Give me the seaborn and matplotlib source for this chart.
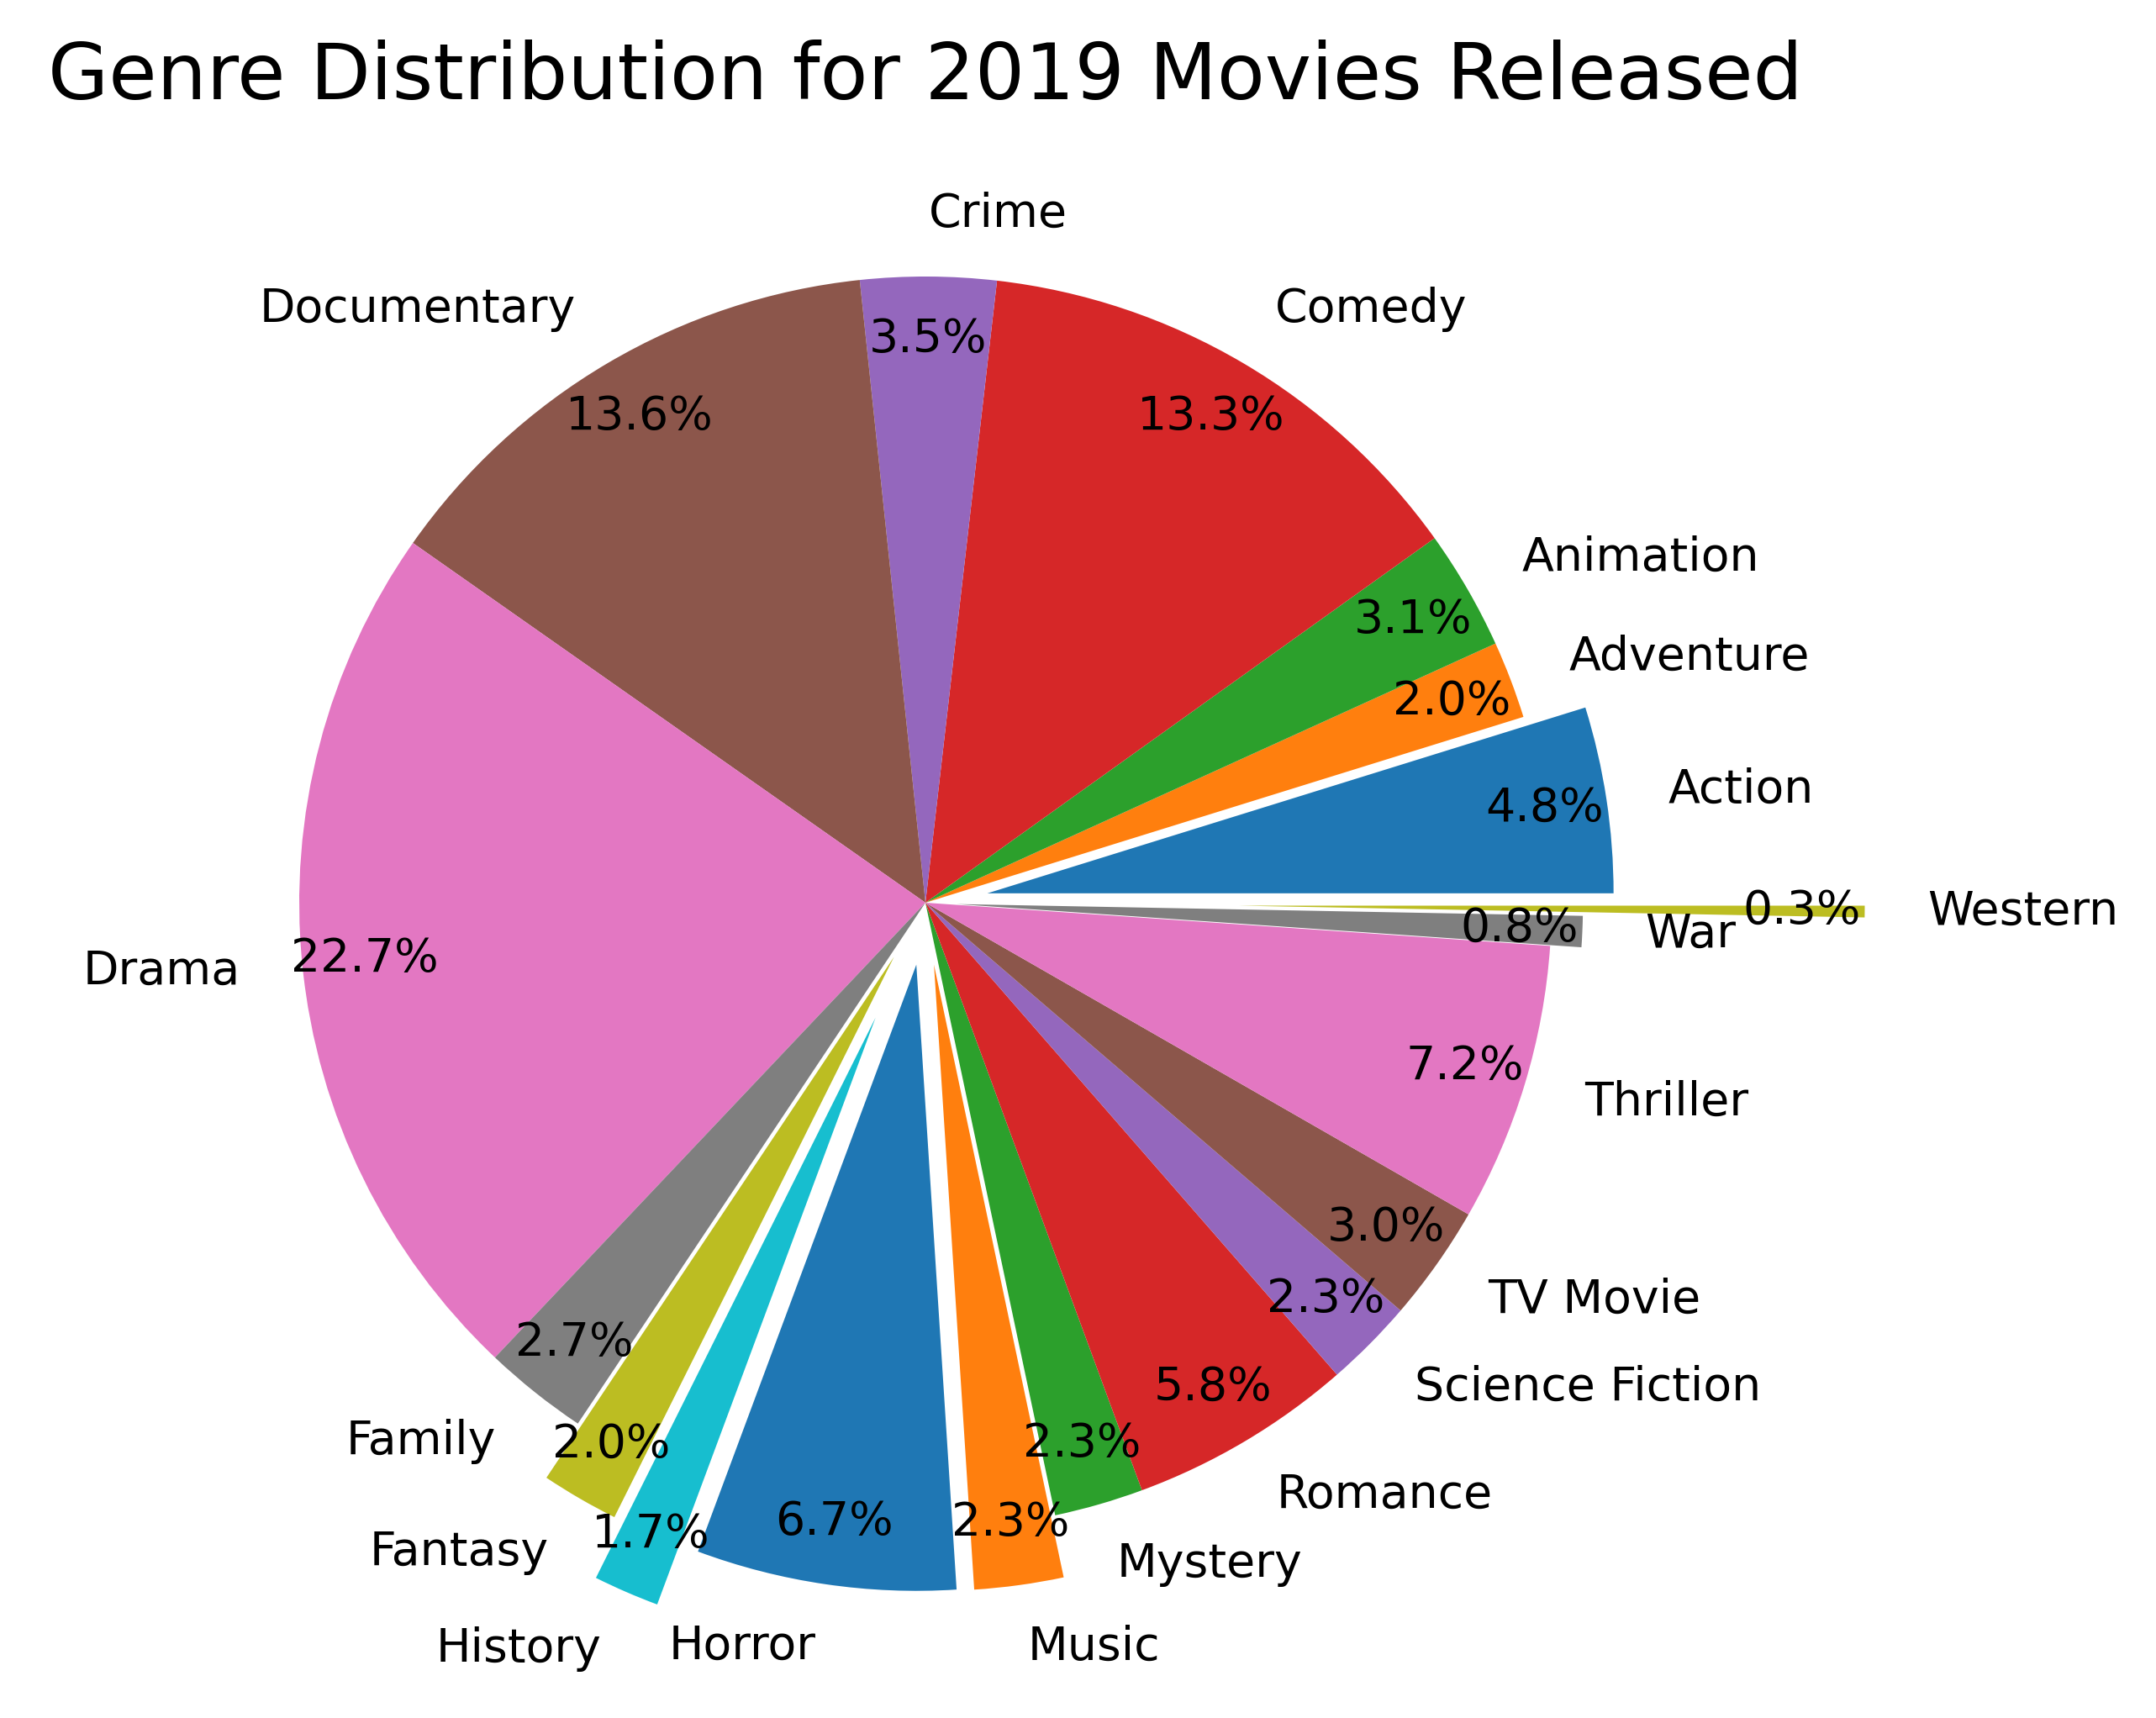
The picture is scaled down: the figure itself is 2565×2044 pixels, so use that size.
import matplotlib
matplotlib.use("Agg")
import matplotlib.pyplot as plt
import seaborn as sb

# genre shares (percent)
genres = ["Action", "Adventure", "Animation", "Comedy", "Crime", "Documentary",
          "Drama", "Family", "Fantasy", "History", "Horror", "Music", "Mystery",
          "Romance", "Science Fiction", "TV Movie", "Thriller", "War", "Western"]
shares = [4.8, 2.0, 3.1, 13.3, 3.5, 13.6, 22.7, 2.7, 2.0, 1.7, 6.7, 2.3, 2.3,
          5.8, 2.3, 3.0, 7.2, 0.8, 0.3]
explode = [0.1, 0, 0, 0, 0, 0, 0, 0, 0.1, 0.2, 0.1, 0.1, 0, 0, 0, 0, 0, 0.05, 0.5]


def main():
    plt.rcParams["font.family"] = ["DejaVu Sans"]

    W, H, dpi = 2565, 2044, 300
    fig = plt.figure(figsize=(W / dpi, H / dpi), dpi=dpi)
    # pie centre and radius in pixels
    cx, cy, r = 1101, 1074, 745
    side = 2.5 * r
    ax = fig.add_axes([(cx - side / 2) / W, (H - cy - side / 2) / H, side / W, side / H])

    colors = sb.color_palette("tab10", 10)
    ax.pie(shares, labels=genres, explode=explode, autopct="%1.1f%%",
           pctdistance=0.9, labeldistance=1.1, startangle=0,
           colors=colors, textprops={"fontsize": 13.3, "color": "black"},
           wedgeprops={"linewidth": 0})
    ax.set_xlim(-1.25, 1.25)
    ax.set_ylim(-1.25, 1.25)
    ax.set_aspect("equal")
    ax.axis("off")
    ax.set_title("Genre Distribution for 2019 Movies Released", fontsize=22.4)

    plt.savefig("out.png", dpi=dpi)


if __name__ == "__main__":
    main()
